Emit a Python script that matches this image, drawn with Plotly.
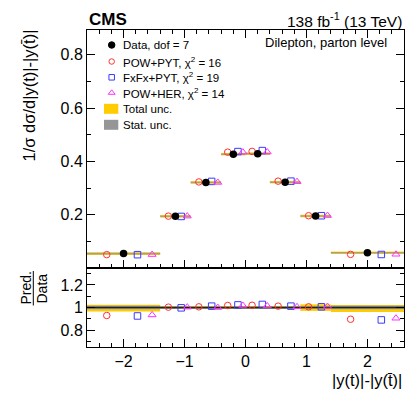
import plotly.graph_objects as go

# ---------------- data ----------------
bin_edges = [-2.6, -1.4, -0.9, -0.4, 0.0, 0.4, 0.9, 1.4, 2.6]
data_vals = [0.054, 0.194, 0.321, 0.427, 0.429, 0.322, 0.195, 0.057]
tot_up = [0.025, 0.012, 0.012, 0.012, 0.012, 0.013, 0.028, 0.022]
tot_dn = [0.035, 0.012, 0.012, 0.012, 0.012, 0.013, 0.030, 0.040]
stat_unc = [0.016, 0.008, 0.007, 0.007, 0.007, 0.008, 0.010, 0.016]
r_powpyt = [0.929, 1.003, 1.006, 1.018, 1.020, 1.012, 1.006, 0.896]
r_fxfx = [0.925, 0.997, 1.012, 1.023, 1.027, 1.012, 1.006, 0.890]
r_powher = [0.934, 1.003, 1.000, 1.018, 1.014, 1.006, 1.009, 0.905]
model_names = ["POW+PYT, χ<sup>2</sup> = 16", "FxFx+PYT, χ<sup>2</sup> = 19", "POW+HER, χ<sup>2</sup> = 14"]
data_name = "Data, dof = 7"
x_ticks = [-2, -1, 0, 1, 2]
x_ticktext = ["−2", "−1", "0", "1", "2"]

# ---------------- style ----------------
W, H = 407, 394
ML, MR, MT, MB = 87, 3, 30, 47
PW, PH = W - ML - MR, H - MT - MB
SPLIT = 268
ratio_top = (H - MB - SPLIT) / PH
FONT = "Liberation Sans, Arial, Helvetica, sans-serif"
RED, BLUE, MAG = "#ff3030", "#3a3aff", "#ff30ff"
YEL, GRAY = "#ffcc00", "rgb(150,150,150)"
frac_red, frac_blue, frac_mag = 0.27, 0.69, 0.89


def px_x(x):
    return (x - ML) / PW


def px_y(y):
    return 1 - (y - MT) / PH


lo = bin_edges[:-1]
hi = bin_edges[1:]
centers = [(a + b) / 2 for a, b in zip(lo, hi)]
widths = [b - a for a, b in zip(lo, hi)]


def pos(frac):
    return [a + frac * (b - a) for a, b in zip(lo, hi)]


fig = go.Figure()

# main panel: horizontal bin bars (total + stat)
seg_x, seg_y = [], []
for a, b, v in zip(lo, hi, data_vals):
    seg_x += [a, b, None]
    seg_y += [v, v, None]
fig.add_trace(go.Scatter(x=seg_x, y=seg_y, mode="lines", line=dict(color="rgba(255,204,0,0.85)", width=2.6),
                         showlegend=False, hoverinfo="skip"))
fig.add_trace(go.Scatter(x=seg_x, y=seg_y, mode="lines", line=dict(color="rgba(140,140,140,0.7)", width=1.6),
                         showlegend=False, hoverinfo="skip"))

models = [(r_powpyt, frac_red, RED, "circle-open", 6.5),
          (r_fxfx, frac_blue, BLUE, "square-open", 6.5),
          (r_powher, frac_mag, MAG, "triangle-up-open", 7)]

for (ratio, frac, col, sym, sz), name in zip(models, model_names):
    fig.add_trace(go.Scatter(x=pos(frac), y=[d * r for d, r in zip(data_vals, ratio)], mode="markers",
                             marker=dict(symbol=sym, color=col, size=sz, line=dict(width=1, color=col)),
                             name=name, showlegend=False))

fig.add_trace(go.Scatter(x=centers, y=data_vals, mode="markers",
                         marker=dict(symbol="circle", color="black", size=7.5),
                         name=data_name, showlegend=False))

# ratio panel bands
fig.add_trace(go.Bar(x=centers, width=widths, base=[1 - d for d in tot_dn],
                     y=[u + d for u, d in zip(tot_up, tot_dn)], marker=dict(color=YEL, line=dict(width=0)),
                     xaxis="x2", yaxis="y2", showlegend=False, hoverinfo="skip"))
fig.add_trace(go.Bar(x=centers, width=widths, base=[1 - s for s in stat_unc],
                     y=[2 * s for s in stat_unc], marker=dict(color=GRAY, line=dict(width=0)),
                     xaxis="x2", yaxis="y2", showlegend=False, hoverinfo="skip"))
fig.add_trace(go.Scatter(x=[bin_edges[0], bin_edges[-1]], y=[1, 1], mode="lines",
                         line=dict(color="#222", width=1.5), xaxis="x2", yaxis="y2",
                         showlegend=False, hoverinfo="skip"))
for (ratio, frac, col, sym, sz), name in zip(models, model_names):
    fig.add_trace(go.Scatter(x=pos(frac), y=ratio, mode="markers",
                             marker=dict(symbol=sym, color=col, size=sz, line=dict(width=1, color=col)),
                             xaxis="x2", yaxis="y2", showlegend=False))

# legend (manual)
leg_x = 111.7
leg_rows = [45, 61.5, 77.3, 92.8]
leg_styles = [("circle", "black", 6.5)] + [(m[3], m[2], m[4] - 1) for m in models]
leg_names = [data_name] + model_names
for (sym, col, sz), yrow in zip(leg_styles, leg_rows):
    fig.add_trace(go.Scatter(x=[px_x(leg_x)], y=[(SPLIT - yrow) / (SPLIT - MT)], mode="markers",
                             marker=dict(symbol=sym, color=col, size=sz, line=dict(width=1, color=col)),
                             xaxis="x3", yaxis="y3", showlegend=False, hoverinfo="skip"))
shapes = []
annotations = []
for name, yrow in zip(leg_names + ["Total unc.", "Stat. unc."], leg_rows + [108.8, 124.8]):
    annotations.append(dict(text=name, x=px_x(121), y=px_y(yrow), xref="paper", yref="paper",
                            xanchor="left", yanchor="middle", showarrow=False,
                            font=dict(size=11.5, color="black", family=FONT)))
for col, yrow in [(YEL, 108.8), (GRAY, 124.8)]:
    shapes.append(dict(type="rect", xref="paper", yref="paper", x0=px_x(104), x1=px_x(118.3),
                       y0=px_y(yrow - 5), y1=px_y(yrow + 5), fillcolor=col, line=dict(width=0)))

# fraction line for Pred./Data
shapes.append(dict(type="line", xref="paper", yref="paper", x0=px_x(33.3), x1=px_x(33.3),
                   y0=px_y(271), y1=px_y(305.5), line=dict(color="black", width=1)))

annotations += [
    dict(text="<b>CMS</b>", x=0, y=px_y(20), xref="paper", yref="paper", xanchor="left", yanchor="middle",
         showarrow=False, font=dict(size=17, color="black", family=FONT)),
    dict(text="138 fb<sup>-1</sup> (13 TeV)", x=1, y=px_y(20), xref="paper", yref="paper", xanchor="right",
         yanchor="middle", showarrow=False, font=dict(size=15.5, color="black", family=FONT)),
    dict(text="Dilepton, parton level", x=px_x(388.5), y=px_y(43), xref="paper", yref="paper",
         xanchor="right", yanchor="middle", showarrow=False, font=dict(size=13, color="black", family=FONT)),
    dict(text="1/σ dσ/d|y(t)|-|y(t̄)|", x=px_x(28.5), y=px_y(96), xref="paper", yref="paper",
         xanchor="center", yanchor="middle", textangle=-90, showarrow=False,
         font=dict(size=16.5, color="black", family=FONT)),
    dict(text="|y(t)|-|y(t̄)|", x=1, y=px_y(380), xref="paper", yref="paper",
         xanchor="right", yanchor="middle", showarrow=False, font=dict(size=16.5, color="black", family=FONT)),
    dict(text="Pred.", x=px_x(25), y=px_y(288.5), xref="paper", yref="paper",
         xanchor="center", yanchor="middle", textangle=-90, showarrow=False,
         font=dict(size=14, color="black", family=FONT)),
    dict(text="Data", x=px_x(41), y=px_y(288.5), xref="paper", yref="paper",
         xanchor="center", yanchor="middle", textangle=-90, showarrow=False,
         font=dict(size=14, color="black", family=FONT)),
]

axis_common = dict(showgrid=False, zeroline=False, showline=True, linecolor="black", linewidth=1,
                   ticks="inside", tickcolor="black", ticklen=8, tickwidth=1,
                   tickfont=dict(size=16, color="black", family=FONT))

fig.update_layout(
    width=W, height=H, margin=dict(l=ML, r=MR, t=MT, b=MB),
    paper_bgcolor="white", plot_bgcolor="white", barmode="overlay", showlegend=False,
    xaxis=dict(axis_common, domain=[0, 1], range=[bin_edges[0], bin_edges[-1]], anchor="y",
               tickvals=x_ticks, showticklabels=False, mirror="allticks",
               minor=dict(dtick=0.2, tick0=0, ticks="inside", ticklen=4, tickcolor="black")),
    yaxis=dict(axis_common, domain=[ratio_top, 1], range=[0, 0.893], anchor="x",
               tickvals=[0.2, 0.4, 0.6, 0.8], ticktext=["0.2", "0.4", "0.6", "0.8"], mirror="allticks",
               minor=dict(tickvals=[0.1, 0.3, 0.5, 0.7], ticks="inside", ticklen=4, tickcolor="black")),
    xaxis2=dict(axis_common, domain=[0, 1], range=[bin_edges[0], bin_edges[-1]], anchor="y2",
                tickvals=x_ticks, ticktext=x_ticktext, mirror=True,
                minor=dict(dtick=0.2, tick0=0, ticks="inside", ticklen=4, tickcolor="black")),
    yaxis2=dict(axis_common, domain=[0, ratio_top], range=[0.65, 1.35], anchor="x2",
                tickvals=[0.8, 1.0, 1.2], ticktext=["0.8", "1", "1.2"], mirror="allticks",
                minor=dict(tickvals=[0.7, 0.9, 1.1, 1.3], ticks="inside", ticklen=4, tickcolor="black")),
    xaxis3=dict(overlaying="x", range=[0, 1], visible=False, anchor="y3"),
    yaxis3=dict(overlaying="y", range=[0, 1], visible=False, anchor="x3"),
    shapes=shapes, annotations=annotations,
)

fig.write_html("out.html", config={"displayModeBar": False},
               post_script="document.body.style.margin='0px';")
